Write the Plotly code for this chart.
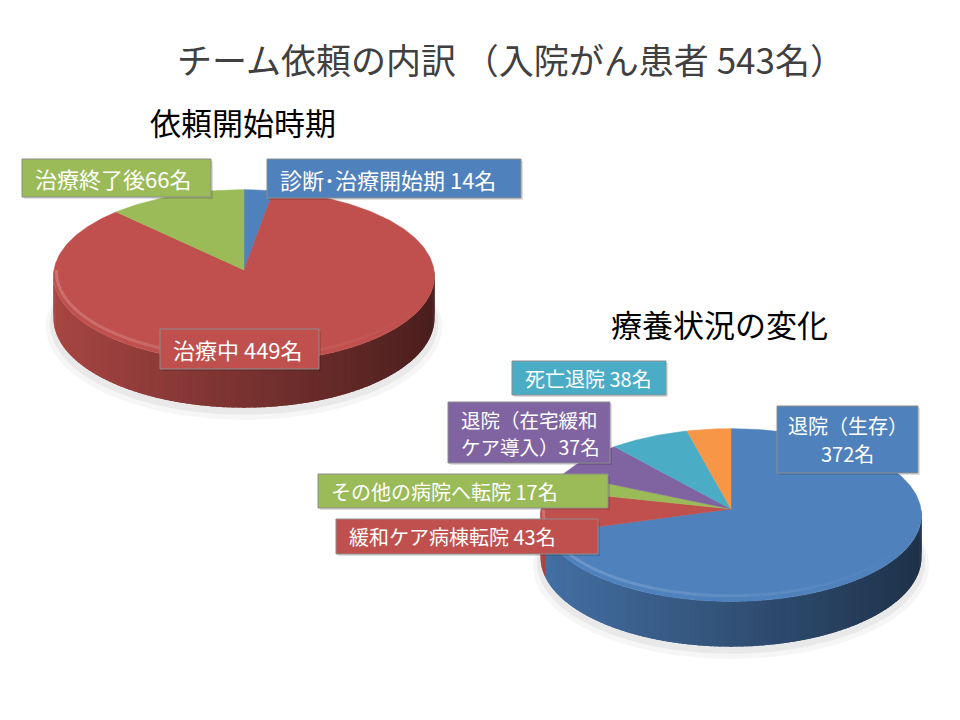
import numpy as np
import plotly.graph_objects as go

FONT = "Noto Sans CJK JP"

# 依頼開始時期 (left pie), clockwise from 12 o'clock
start_labels = ["診断･治療開始期 {}名", "治療中 {}名", "治療終了後{}名"]
start_values = [14, 449, 66]
start_colors = ["#4F81BD", "#C0504D", "#9BBB59"]

# 療養状況の変化 (right pie), clockwise from 12 o'clock; last slice has no label
status_labels = [
    "退院（生存）<br>{}名",
    "緩和ケア病棟転院 {}名",
    "その他の病院へ転院 {}名",
    "退院（在宅緩和<br>ケア導入）{}名",
    "死亡退院 {}名",
    None,
]
status_values = [372, 43, 17, 37, 38, 21]
status_colors = ["#4F81BD", "#C0504D", "#9BBB59", "#8064A2", "#4BACC6", "#F79646"]

# label boxes: left, top, right, bottom (pixels)
start_boxes = [(267, 159, 521, 198), (160, 329, 319, 369), (22, 159, 211, 197)]
status_boxes = [
    (777, 406, 918, 473),
    (336, 519, 598, 554),
    (318, 474, 608, 508),
    (448, 402, 610, 463),
    (512, 361, 666, 395),
    None,
]

# page offset of the plot inside the browser window
OFF = 8

# 3D pie projection
RX, RY, PERSP, DEPTH = 190, 86, 0.07, 42


def hex_rgb(c):
    c = c.lstrip("#")
    return [int(c[i:i + 2], 16) for i in (0, 2, 4)]


def shade(c, f):
    r, g, b = [max(0, min(255, int(v * f))) for v in hex_rgb(c)]
    return f"rgb({r},{g},{b})"


def lighten(c, f):
    r, g, b = [int(v + (255 - v) * f) for v in hex_rgb(c)]
    return f"rgb({r},{g},{b})"


def rim(cx, cy, th, drop=0.0, scale=1.0):
    den = 1 + PERSP * np.cos(th)
    x = cx + scale * RX * np.sin(th) / den
    y = cy + (-scale * RY * np.cos(th) + drop) / den
    return x, y


def add_pie(fig, cx, cy, values, colors):
    vals = np.array(values, dtype=float)
    edges = np.concatenate([[0], np.cumsum(vals)]) / vals.sum() * 2 * np.pi

    # soft shadow
    th = np.linspace(0, 2 * np.pi, 200)
    for grow, off, a in [(1.04, 8, 0.035), (1.02, 5, 0.05)]:
        x, y = rim(cx, cy, th, DEPTH + off, grow)
        fig.add_trace(go.Scatter(
            x=x, y=y, fill="toself", mode="lines", line_width=0,
            fillcolor=f"rgba(0,0,0,{a})", hoverinfo="skip", showlegend=False,
        ))

    # side wall (front half only), shaded from left (light) to right (dark)
    steps = np.linspace(np.pi / 2, 3 * np.pi / 2, 121)
    step = steps[1] - steps[0]
    for a0, a1 in zip(steps[:-1], steps[1:]):
        mid = (a0 + a1) / 2
        k = np.searchsorted(edges, mid) - 1
        t = (np.sin(mid) + 1) / 2
        col = shade(colors[k], 0.88 - 0.5 * t)
        seg = np.linspace(a0 - 0.4 * step, min(a1 + 0.4 * step, 3 * np.pi / 2), 4)
        xt, yt = rim(cx, cy, seg)
        xb, yb = rim(cx, cy, seg[::-1], DEPTH)
        fig.add_trace(go.Scatter(
            x=np.concatenate([xt, xb]), y=np.concatenate([yt, yb]),
            fill="toself", mode="none", fillcolor=col,
            hoverinfo="skip", showlegend=False,
        ))

    # top face
    for i, col in enumerate(colors):
        seg = np.linspace(edges[i], edges[i + 1], max(3, int((edges[i + 1] - edges[i]) * 60)))
        x, y = rim(cx, cy, seg)
        fig.add_trace(go.Scatter(
            x=np.concatenate([[cx], x, [cx]]), y=np.concatenate([[cy], y, [cy]]),
            fill="toself", mode="lines", line=dict(color=col, width=0.5),
            fillcolor=col, hoverinfo="skip", showlegend=False,
        ))

    # bevel highlight on front rim
    hl = np.linspace(np.pi / 2 + 0.2, 3 * np.pi / 2 - 0.05, 60)
    for a0, a1 in zip(hl[:-1], hl[1:]):
        mid = (a0 + a1) / 2
        k = np.searchsorted(edges, mid) - 1
        t = (np.sin(mid) + 1) / 2
        col = lighten(colors[k], 0.25 * (1 - t))
        x, y = rim(cx, cy, np.linspace(a0, a1, 3), -4, 0.985)
        fig.add_trace(go.Scatter(
            x=x, y=y, mode="lines", line=dict(color=col, width=3),
            opacity=0.8, hoverinfo="skip", showlegend=False,
        ))


fig = go.Figure()
add_pie(fig, 244, 270, start_values, start_colors)
add_pie(fig, 731, 509, status_values, status_colors)

annotations = [
    dict(x=511, y=58, text="チーム依頼の内訳 （入院がん患者 543名）",
         xanchor="center", font=dict(family=FONT, size=35, color="#404040")),
    dict(x=243, y=121, text="依頼開始時期", xanchor="center",
         font=dict(family=FONT, size=31, color="black")),
    dict(x=719, y=323, text="療養状況の変化", xanchor="center",
         font=dict(family=FONT, size=31, color="black")),
]
shapes = []

for labels, values, colors, boxes, size in [
    (start_labels, start_values, start_colors, start_boxes, 22),
    (status_labels, status_values, status_colors, status_boxes, 20),
]:
    for lab, val, col, box in zip(labels, values, colors, boxes):
        if lab is None:
            continue
        x0, y0, x1, y1 = box
        shapes.append(dict(type="rect", x0=x0 + 2, y0=y0 + 2, x1=x1 + 2, y1=y1 + 2,
                           fillcolor="rgba(0,0,0,0.12)", line_width=0))
        shapes.append(dict(type="rect", x0=x0, y0=y0, x1=x1, y1=y1,
                           fillcolor=col, line=dict(color="#8c8c8c", width=1)))
        centred = "生存" in lab
        lines = lab.format(val).split("<br>")
        fsize = size if len(lines) == 1 or centred else 19.5
        gap = 28 if centred else 27
        ym = (y0 + y1) / 2
        for j, line in enumerate(lines):
            annotations.append(dict(
                x=(x0 + x1) / 2 if centred else x0 + 11,
                y=ym + (j - (len(lines) - 1) / 2) * gap,
                xanchor="center" if centred else "left",
                text=line,
                font=dict(family=FONT, size=fsize, color="white"),
            ))

for a in annotations:
    a.update(xref="x", yref="y", showarrow=False, yanchor="middle")
for s in shapes:
    s.update(xref="x", yref="y", layer="above")

fig.update_layout(
    width=960,
    height=720,
    margin=dict(l=0, r=0, t=0, b=0),
    paper_bgcolor="white",
    plot_bgcolor="white",
    showlegend=False,
    xaxis=dict(range=[OFF, 960 + OFF], visible=False, fixedrange=True),
    yaxis=dict(range=[720 + OFF, OFF], visible=False, fixedrange=True),
    annotations=annotations,
    shapes=shapes,
)

fig.write_html("out.html", config={"displayModeBar": False})
